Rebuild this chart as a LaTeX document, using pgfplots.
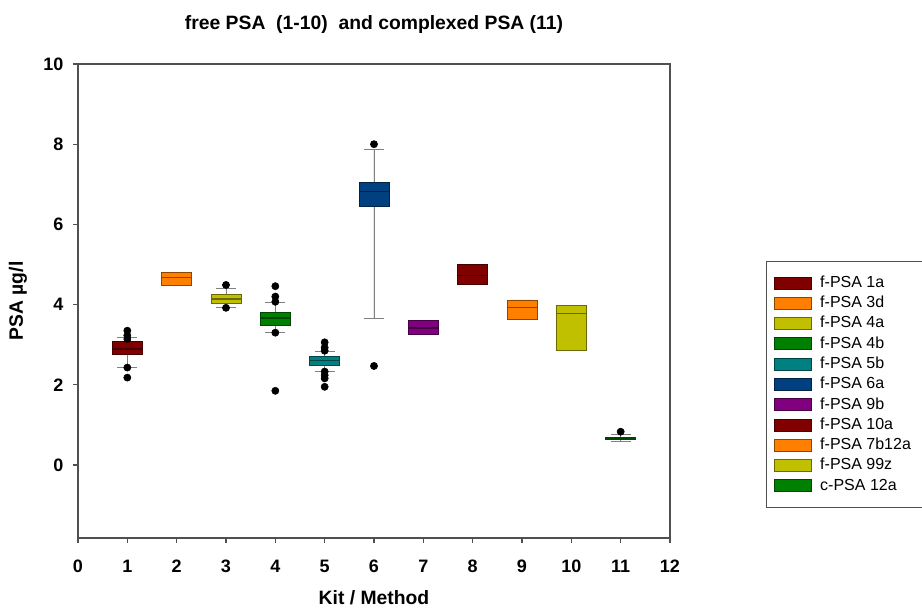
\documentclass[border=0pt]{standalone}
\usepackage{fontspec}
\setmainfont{Liberation Sans}
\usepackage{pgfplots}
\pgfplotsset{compat=1.18}
\usepgfplotslibrary{statistics}

\definecolor{c1}{RGB}{128,0,0}
\definecolor{c2}{RGB}{255,128,0}
\definecolor{c3}{RGB}{192,192,0}
\definecolor{c4}{RGB}{0,128,0}
\definecolor{c5}{RGB}{0,128,128}
\definecolor{c6}{RGB}{0,64,128}
\definecolor{c7}{RGB}{128,0,128}
\definecolor{axgray}{RGB}{80,80,80}

\pgfplotsset{
  psabox/.style={
    boxplot prepared={draw position=#1},
    forget plot,
    mark=*, mark size=2.7pt, mark options={draw=black, fill=black},
  },
  nowhisk/.style={boxplot/every whisker/.style={draw=none}},
}

\begin{document}
\begin{tikzpicture}
\begin{axis}[
  scale only axis,
  width=444pt, height=355.5pt,
  xmin=0, xmax=12, ymin=-1.82, ymax=10,
  xtick={0,...,12}, ytick={0,2,4,6,8,10},
  tick pos=left, tick align=outside,
  major tick length=3.75pt,
  axis line style={axgray, line width=1.1pt},
  tick style={axgray, line width=0.9pt},
  /pgf/number format/assume math mode=true,
  ticklabel style={font=\fontsize{13.5}{15}\selectfont\bfseries},
  xticklabel style={yshift=-9pt},
  yticklabel style={xshift=-3.75pt},
  title={free PSA\ \ (1-10)\ \ and complexed PSA (11)},
  title style={font=\fontsize{14.5}{16}\selectfont\bfseries, at={(axis description cs:0.5,1)}, yshift=23.25pt, anchor=center},
  xlabel={Kit / Method},
  ylabel={PSA µg/l},
  label style={font=\fontsize{14.5}{16}\selectfont\bfseries},
  xlabel style={at={(axis description cs:0.5,-0.1266)}, anchor=center},
  ylabel style={at={(axis description cs:-0.1014,0.5)}, anchor=center},
  boxplot/draw direction=y,
  boxplot/box extend=0.61,
  boxplot/whisker extend=0.4,
  boxplot/every whisker/.style={draw=black!50, line width=0.7pt},
  boxplot/every median/.style={line width=1pt},
  legend image code/.code={\draw[#1, line width=0.6pt] (0pt,-4.5pt) rectangle (27.75pt,4.5pt);},
  legend style={at={(1.1622,0.5844)}, anchor=north west, draw=axgray, line width=0.6pt,
    font=\fontsize{12}{14}\selectfont, inner xsep=6pt, inner ysep=9.5pt, row sep=1.7pt, column sep=5pt,
    nodes={inner sep=1pt, text height=9pt, text depth=2.5pt}},
  legend cell align=left,
]
% 1
\addplot[psabox=1, boxplot prepared={lower whisker=2.43, lower quartile=2.77, median=2.89, upper quartile=3.09, upper whisker=3.17},
  fill=c1, draw=c1!55!black] table[row sep=\\, y index=0] {y\\ 3.35\\ 3.23\\ 3.14\\ 2.43\\ 2.18\\};
% 2
\addplot[psabox=2, nowhisk, boxplot prepared={lower whisker=4.48, lower quartile=4.48, median=4.67, upper quartile=4.80, upper whisker=4.80},
  fill=c2, draw=c2!55!black] coordinates {};
% 3
\addplot[psabox=3, boxplot prepared={lower whisker=3.92, lower quartile=4.03, median=4.14, upper quartile=4.26, upper whisker=4.41},
  fill=c3, draw=c3!55!black] table[row sep=\\, y index=0] {y\\ 4.49\\ 3.92\\};
% 4
\addplot[psabox=4, boxplot prepared={lower whisker=3.30, lower quartile=3.49, median=3.67, upper quartile=3.82, upper whisker=4.06},
  fill=c4, draw=c4!55!black] table[row sep=\\, y index=0] {y\\ 4.46\\ 4.20\\ 4.07\\ 3.30\\ 1.85\\};
% 5
\addplot[psabox=5, boxplot prepared={lower whisker=2.33, lower quartile=2.49, median=2.60, upper quartile=2.70, upper whisker=2.82},
  fill=c5, draw=c5!55!black] table[row sep=\\, y index=0] {y\\ 3.06\\ 2.93\\ 2.85\\ 2.33\\ 2.24\\ 2.16\\ 1.95\\};
% 6
\addplot[psabox=6, boxplot prepared={lower whisker=3.66, lower quartile=6.44, median=6.82, upper quartile=7.05, upper whisker=7.88},
  fill=c6, draw=c6!55!black] table[row sep=\\, y index=0] {y\\ 8.00\\ 2.47\\};
% 7
\addplot[psabox=7, nowhisk, boxplot prepared={lower whisker=3.26, lower quartile=3.26, median=3.42, upper quartile=3.61, upper whisker=3.61},
  fill=c7, draw=c7!55!black] coordinates {};
% 8
\addplot[psabox=8, nowhisk, boxplot prepared={lower whisker=4.51, lower quartile=4.51, median=4.72, upper quartile=5.01, upper whisker=5.01},
  fill=c1, draw=c1!55!black] coordinates {};
% 9
\addplot[psabox=9, nowhisk, boxplot prepared={lower whisker=3.63, lower quartile=3.63, median=3.93, upper quartile=4.12, upper whisker=4.12},
  fill=c2, draw=c2!55!black] coordinates {};
% 10
\addplot[psabox=10, nowhisk, boxplot prepared={lower whisker=2.87, lower quartile=2.87, median=3.78, upper quartile=3.98, upper whisker=3.98},
  fill=c3, draw=c3!55!black] coordinates {};
% 11
\addplot[psabox=11, boxplot prepared={lower whisker=0.58, lower quartile=0.63, median=0.655, upper quartile=0.68, upper whisker=0.77},
  fill=c4, draw=c4!55!black] table[row sep=\\, y index=0] {y\\ 0.83\\};

\addlegendimage{fill=c1, draw=c1!55!black}\addlegendentry{f-PSA 1a}
\addlegendimage{fill=c2, draw=c2!55!black}\addlegendentry{f-PSA 3d}
\addlegendimage{fill=c3, draw=c3!55!black}\addlegendentry{f-PSA 4a}
\addlegendimage{fill=c4, draw=c4!55!black}\addlegendentry{f-PSA 4b}
\addlegendimage{fill=c5, draw=c5!55!black}\addlegendentry{f-PSA 5b}
\addlegendimage{fill=c6, draw=c6!55!black}\addlegendentry{f-PSA 6a}
\addlegendimage{fill=c7, draw=c7!55!black}\addlegendentry{f-PSA 9b}
\addlegendimage{fill=c1, draw=c1!55!black}\addlegendentry{f-PSA 10a}
\addlegendimage{fill=c2, draw=c2!55!black}\addlegendentry{f-PSA 7b12a\rule{18pt}{0pt}}
\addlegendimage{fill=c3, draw=c3!55!black}\addlegendentry{f-PSA 99z}
\addlegendimage{fill=c4, draw=c4!55!black}\addlegendentry{c-PSA 12a}
\end{axis}
\pgfresetboundingbox
\path[use as bounding box] ([shift={(-58.5pt,-52.5pt)}]current axis.south west) rectangle ++(691.5pt,456pt);
\end{tikzpicture}
\end{document}
